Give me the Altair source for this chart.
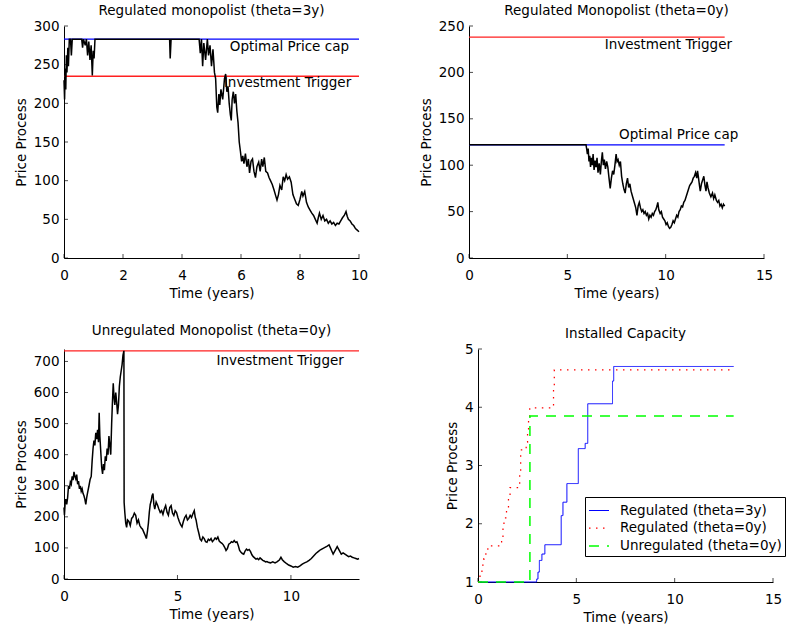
import altair as alt
import pandas as pd

FONT = "DejaVu Sans"
FS = 13.5

# ---------------- Panel 1: Regulated monopolist (theta=3y) ----------------
p1_t = [0.00, 0.02, 0.04, 0.06, 0.08, 0.10, 0.13, 0.15, 0.18, 0.22, 0.25, 0.28, 0.60, 0.63, 0.66,
        0.72, 0.76, 0.80, 0.84, 0.88, 0.92, 0.96, 0.99, 1.02, 1.05, 3.58, 3.60, 3.63, 4.58, 4.62,
        4.66, 4.70, 4.74, 4.80, 4.86, 4.90, 4.95, 5.00, 5.05, 5.10, 5.14, 5.18, 5.21, 5.25, 5.28,
        5.32, 5.38, 5.44, 5.48, 5.52, 5.56, 5.60, 5.64, 5.67, 5.70, 5.74, 5.78, 5.82, 5.86, 5.90,
        5.94, 5.98, 6.02, 6.06, 6.10, 6.15, 6.20, 6.25, 6.29, 6.34, 6.39, 6.44, 6.49, 6.54, 6.60,
        6.65, 6.70, 6.74, 6.79, 6.84, 6.90, 6.95, 7.00, 7.06, 7.12, 7.18, 7.22, 7.27, 7.32, 7.38,
        7.43, 7.48, 7.53, 7.58, 7.64, 7.70, 7.76, 7.82, 7.88, 7.94, 8.00, 8.06, 8.10, 8.16, 8.22,
        8.28, 8.34, 8.40, 8.46, 8.52, 8.58, 8.62, 8.66, 8.72, 8.78, 8.84, 8.90, 8.96, 9.02, 9.08,
        9.14, 9.20, 9.26, 9.32, 9.38, 9.44, 9.50, 9.56, 9.60, 9.64, 9.70, 9.76, 9.82, 9.88, 9.94,
        10.00]
p1_v = [230, 205, 245, 218, 262, 240, 272, 248, 283, 283, 262, 283, 283, 272, 283,
        275, 283, 262, 280, 256, 275, 236, 268, 258, 283, 283, 258, 283, 283, 265,
        283, 248, 278, 256, 283, 262, 275, 248, 270, 240, 232, 195, 188, 212, 198,
        218, 205, 232, 238, 215, 222, 200, 185, 178, 205, 215, 200, 212, 190, 175,
        150, 138, 125, 132, 122, 135, 118, 128, 110, 125, 128, 112, 104, 118, 124,
        112, 128, 118, 130, 112, 110, 104, 100, 95, 88, 80, 75, 82, 94, 88,
        105, 100, 108, 102, 105, 98, 82, 76, 70, 68, 76, 86, 80, 86, 72,
        66, 62, 58, 55, 50, 45, 52, 58, 50, 55, 48, 50, 45, 48, 44,
        46, 42, 45, 44, 48, 52, 55, 60, 54, 50, 48, 44, 42, 38, 36,
        34]
p1_cap, p1_trig = 283, 235

# ---------------- Panel 2: Regulated Monopolist (theta=0y) ----------------
p2_t = [0.00, 5.95, 5.98, 6.02, 6.06, 6.10, 6.14, 6.18, 6.22, 6.27, 6.31, 6.36, 6.41, 6.46, 6.51,
        6.56, 6.62, 6.68, 6.73, 6.78, 6.83, 6.88, 6.94, 7.00, 7.06, 7.12, 7.18, 7.24, 7.30, 7.36,
        7.42, 7.48, 7.53, 7.58, 7.64, 7.70, 7.76, 7.82, 7.88, 7.94, 8.00, 8.06, 8.12, 8.18, 8.24,
        8.32, 8.40, 8.48, 8.54, 8.60, 8.66, 8.72, 8.78, 8.84, 8.90, 8.96, 9.02, 9.08, 9.14, 9.20,
        9.26, 9.32, 9.38, 9.44, 9.50, 9.56, 9.60, 9.65, 9.72, 9.78, 9.84, 9.90, 9.96, 10.02, 10.08,
        10.14, 10.20, 10.26, 10.32, 10.38, 10.44, 10.50, 10.56, 10.62, 10.68, 10.74, 10.80, 10.86,
        10.92, 10.98, 11.04, 11.10, 11.16, 11.22, 11.28, 11.34, 11.40, 11.46, 11.52, 11.58, 11.62,
        11.66, 11.72, 11.76, 11.82, 11.88, 11.94, 12.00, 12.05, 12.10, 12.15, 12.22, 12.30, 12.38,
        12.44, 12.50, 12.58, 12.64, 12.70, 12.76, 12.82, 12.88, 12.94, 13.00]
p2_v = [122, 122, 118, 112, 118, 104, 110, 98, 108, 100, 112, 95, 105, 98, 108,
        92, 102, 90, 104, 114, 100, 106, 96, 104, 98, 86, 75, 86, 94, 90,
        100, 112, 104, 106, 100, 104, 88, 80, 74, 70, 80, 86, 76, 80, 72,
        66, 60, 54, 46, 56, 60, 54, 50, 52, 48, 50, 46, 48, 42, 46,
        44, 48, 46, 50, 52, 56, 60, 52, 48, 50, 44, 42, 40, 36, 38,
        34, 32, 33, 36, 40, 38, 42, 46, 44, 50, 52, 56, 55,
        60, 62, 66, 70, 74, 78, 80, 82, 86, 88, 92, 86, 94,
        88, 78, 72, 80, 84, 88, 78, 72, 82, 76, 70, 66, 70,
        64, 68, 62, 60, 62, 56, 58, 54, 58, 56]
p2_cap, p2_trig = 122, 238

# ---------------- Panel 3: Unregulated Monopolist (theta=0y) ----------------
p3_t = [0.00, 0.02, 0.05, 0.08, 0.12, 0.16, 0.20, 0.24, 0.28, 0.32, 0.36, 0.40, 0.44, 0.48, 0.52,
        0.56, 0.60, 0.64, 0.68, 0.72, 0.76, 0.80, 0.84, 0.88, 0.92, 0.96, 1.00, 1.04, 1.10, 1.15,
        1.20, 1.24, 1.28, 1.32, 1.36, 1.40, 1.44, 1.48, 1.52, 1.55, 1.58, 1.62, 1.66, 1.70, 1.74,
        1.78, 1.82, 1.86, 1.90, 1.94, 1.98, 2.02, 2.06, 2.10, 2.13, 2.17, 2.20, 2.24, 2.28, 2.32,
        2.36, 2.40, 2.44, 2.48, 2.52, 2.56, 2.60, 2.64, 2.65, 2.68, 2.72, 2.76, 2.80, 2.86, 2.92,
        2.98, 3.04, 3.10, 3.16, 3.22, 3.28, 3.34, 3.40, 3.46, 3.52, 3.58, 3.63, 3.68, 3.72, 3.76,
        3.80, 3.84, 3.88, 3.92, 3.96, 4.00, 4.06, 4.12, 4.18, 4.24, 4.30, 4.36, 4.42, 4.48, 4.54,
        4.60, 4.66, 4.72, 4.78, 4.84, 4.90, 4.96, 5.02, 5.08, 5.14, 5.20, 5.26, 5.32, 5.38, 5.44,
        5.50, 5.56, 5.62, 5.68, 5.74, 5.78, 5.82, 5.88, 5.94, 6.00, 6.06, 6.12, 6.18, 6.24, 6.30,
        6.36, 6.42, 6.48, 6.54, 6.60, 6.66, 6.72, 6.78, 6.84, 6.90, 6.96, 7.02, 7.08, 7.14, 7.20,
        7.26, 7.32, 7.38, 7.44, 7.50, 7.56, 7.62, 7.68, 7.74, 7.80, 7.86, 7.92, 7.98, 8.04, 8.10,
        8.16, 8.22, 8.28, 8.34, 8.40, 8.46, 8.52, 8.58, 8.64, 8.70, 8.76, 8.82, 8.88, 8.94, 9.00,
        9.10, 9.20, 9.30, 9.40, 9.50, 9.56, 9.62, 9.70, 9.80, 9.90, 10.00, 10.10, 10.20, 10.30,
        10.40, 10.50, 10.60, 10.70, 10.80, 10.90, 11.00, 11.10, 11.20, 11.30, 11.40, 11.50, 11.60,
        11.68, 11.74, 11.80, 11.86, 11.92, 11.98, 12.04, 12.10, 12.16, 12.22, 12.30, 12.38, 12.46,
        12.54, 12.62, 12.70, 12.78, 12.86, 12.94, 13.00]
p3_v = [230, 205, 245, 257, 240, 262, 300, 290, 312, 305, 330, 318, 345, 330, 322,
        336, 305, 315, 290, 300, 282, 290, 275, 268, 256, 240, 262, 278, 300, 320,
        330, 380, 420, 445, 430, 470, 450, 480, 440, 535, 460, 410, 360, 338, 370,
        350, 395, 380, 420, 400, 460, 430, 400, 500, 560, 630, 590, 560, 600, 570,
        530, 560, 620, 650, 670, 690, 720, 734, 246, 214, 180, 166, 190, 185, 172,
        195, 200, 212, 205, 180, 190, 172, 165, 160, 150, 140, 130, 155, 180, 215,
        240, 250, 268, 275, 240, 225, 248, 238, 225, 214, 220, 208, 225, 236, 215,
        205, 230, 236, 212, 204, 220, 214, 198, 185, 175, 168, 185, 198, 205, 190,
        195, 205, 198, 210, 220, 200, 190, 165, 148, 128, 123, 135, 130, 120, 118,
        128, 124, 130, 120, 125, 132, 128, 135, 122, 118, 115, 110, 102, 92, 98,
        112, 115, 120, 118, 124, 118, 120, 108, 92, 86, 82, 80, 90, 96, 92,
        95, 88, 78, 72, 68, 64, 66, 62, 68, 64, 60, 58, 55, 56, 54,
        52, 55, 52, 56, 62, 70, 62, 56, 50, 45, 42, 38, 40, 38,
        42, 48, 52, 55, 60, 66, 74, 82, 88, 94, 98, 102, 106,
        110, 100, 90, 80, 88, 96, 104, 96, 88, 80, 84, 80, 76,
        72, 74, 70, 68, 66, 64, 66]
p3_trig = 734

# ---------------- Panel 4: Installed Capacity ----------------
cap_names = ["Regulated (theta=3y)", "Regulated (theta=0y)", "Unregulated (theta=0y)"]
c1_t = [0, 2.98, 3.05, 3.12, 3.25, 3.40, 4.23, 4.32, 4.52, 5.10, 5.45, 5.58, 6.84, 6.90, 13]
c1_v = [1, 1.05, 1.17, 1.37, 1.48, 1.64, 2.14, 2.37, 2.69, 3.29, 3.38, 4.06, 4.45, 4.70, 4.70]
c2_t = [0, 0.10, 0.20, 0.30, 0.40, 0.50, 1.20, 1.27, 1.32, 1.45, 1.55, 1.63, 2.12, 2.17, 2.45,
        2.52, 2.57, 2.63, 3.84, 3.88, 13]
c2_v = [1.0, 1.1, 1.29, 1.4, 1.5, 1.62, 1.75, 1.95, 2.1, 2.27, 2.47, 2.62, 2.9, 3.27, 3.4,
        3.6, 3.83, 3.99, 4.33, 4.64, 4.64]
c3_t = [0, 2.64, 13]
c3_v = [1, 3.85, 3.85]

W, H = 295, 232


def xenc(field, domain, ticks):
    return alt.X(field, type="quantitative", title="Time (years)",
                 scale=alt.Scale(domain=domain, nice=False, zero=False),
                 axis=alt.Axis(values=ticks, labelFlush=False))


def yenc(field, domain, ticks):
    return alt.Y(field, type="quantitative", title="Price Process",
                 scale=alt.Scale(domain=domain, nice=False, zero=False),
                 axis=alt.Axis(values=ticks))


def tick_layers(xd, xt, yd, yt, h):
    xtk = alt.Chart(pd.DataFrame({"t": xt})).mark_tick(color="black", size=4, thickness=1).encode(
        x=xenc("t", xd, xt), y=alt.value(h - 2))
    ytk = alt.Chart(pd.DataFrame({"v": yt})).mark_tick(color="black", size=4, thickness=1).encode(
        y=yenc("v", yd, yt), x=alt.value(2))
    return [xtk, ytk]


def hline(val, x1, color, xd, xt, yd, yt):
    df = pd.DataFrame({"t": [0], "t2": [x1], "v": [val]})
    return alt.Chart(df).mark_rule(color=color, strokeWidth=1.3).encode(
        x=xenc("t", xd, xt), x2="t2", y=yenc("v", yd, yt))


def label(tx, ty, text, xd, xt, yd, yt):
    df = pd.DataFrame({"t": [tx], "v": [ty], "s": [text]})
    return alt.Chart(df).mark_text(align="left", baseline="middle", font=FONT, fontSize=FS,
                                   color="black").encode(
        x=xenc("t", xd, xt), y=yenc("v", yd, yt), text="s:N")


def path(t, v, xd, xt, yd, yt):
    df = pd.DataFrame({"t": t, "v": v})
    return alt.Chart(df).mark_line(color="black", strokeWidth=1.5).encode(
        x=xenc("t", xd, xt), y=yenc("v", yd, yt))


def ttl(text, off):
    return alt.Title(text, fontSize=FS, font=FONT, fontWeight="normal", offset=off, color="black")


# panel 1
xd1, xt1, yd1, yt1 = [0, 10], [0, 2, 4, 6, 8, 10], [0, 300], [0, 50, 100, 150, 200, 250, 300]
p1 = alt.layer(
    *tick_layers(xd1, xt1, yd1, yt1, H),
    hline(p1_trig, 10, "#ff2020", xd1, xt1, yd1, yt1),
    hline(p1_cap, 10, "#0000ff", xd1, xt1, yd1, yt1),
    label(5.62, 273, "Optimal Price cap", xd1, xt1, yd1, yt1),
    label(5.42, 226, "Investment Trigger", xd1, xt1, yd1, yt1),
    path(p1_t, p1_v, xd1, xt1, yd1, yt1),
).properties(width=W, height=H, title=ttl("Regulated monopolist (theta=3y)", 2))

# panel 2
xd2, xt2, yd2, yt2 = [0, 15], [0, 5, 10, 15], [0, 250], [0, 50, 100, 150, 200, 250]
p2 = alt.layer(
    *tick_layers(xd2, xt2, yd2, yt2, H),
    hline(p2_trig, 13, "#ff2020", xd2, xt2, yd2, yt2),
    hline(p2_cap, 13, "#0000ff", xd2, xt2, yd2, yt2),
    label(6.9, 229, "Investment Trigger", xd2, xt2, yd2, yt2),
    label(7.63, 133, "Optimal Price cap", xd2, xt2, yd2, yt2),
    path(p2_t, p2_v, xd2, xt2, yd2, yt2),
).properties(width=W, height=H, title=ttl("Regulated Monopolist (theta=0y)", 2))

# panel 3
xd3, xt3, yd3, yt3 = [0, 13], [0, 5, 10], [0, 740], [0, 100, 200, 300, 400, 500, 600, 700]
p3 = alt.layer(
    *tick_layers(xd3, xt3, yd3, yt3, 230),
    hline(p3_trig, 13, "#ff2020", xd3, xt3, yd3, yt3),
    label(6.72, 702, "Investment Trigger", xd3, xt3, yd3, yt3),
    path(p3_t, p3_v, xd3, xt3, yd3, yt3),
).properties(width=W, height=230, title=ttl("Unregulated Monopolist (theta=0y)", 10))

# panel 4
xd4, xt4, yd4, yt4 = [0, 15], [0, 5, 10, 15], [1, 5], [1, 2, 3, 4, 5]
cap_df = pd.concat([
    pd.DataFrame({"t": c1_t, "v": c1_v, "series": cap_names[0]}),
    pd.DataFrame({"t": c2_t, "v": c2_v, "series": cap_names[1]}),
    pd.DataFrame({"t": c3_t, "v": c3_v, "series": cap_names[2]}),
])
leg = alt.Legend(orient="none", legendX=521, legendY=471, title=None, strokeColor="black",
                 fillColor="white", padding=3, labelFont=FONT, labelFontSize=13.5, labelColor="black",
                 symbolType="stroke", symbolSize=400, rowPadding=-2, labelOffset=10, labelLimit=0,
                 cornerRadius=0)
caps = alt.Chart(cap_df).mark_line(interpolate="step-after").encode(
    x=xenc("t", xd4, xt4), y=yenc("v", yd4, yt4),
    color=alt.Color("series:N", scale=alt.Scale(domain=cap_names, range=["#0000ff", "#ff0000", "#00ff00"]),
                    legend=leg),
    strokeDash=alt.StrokeDash("series:N", scale=alt.Scale(domain=cap_names, range=[[1, 0], [1.5, 5.5], [10, 8]]),
                              legend=leg),
    strokeWidth=alt.StrokeWidth("series:N", scale=alt.Scale(domain=cap_names, range=[1, 1.5, 4]),
                                legend=leg),
)
p4 = alt.layer(*tick_layers(xd4, xt4, yd4, yt4, 233), caps).properties(
    width=W, height=233, title=ttl("Installed Capacity", 2))

row1 = alt.hconcat(p1, p2, spacing=110, bounds="flush")
row2 = alt.hconcat(p3, p4, spacing=119, bounds="flush")
chart = alt.vconcat(row1, row2, spacing=24).properties(
    padding={"left": 14, "top": 3, "right": 0, "bottom": 0}
).configure_view(stroke=None).configure_axis(
    domainColor="black", domainWidth=1, ticks=False, grid=False,
    labelFont=FONT, labelFontSize=FS, labelColor="black", labelPadding=5,
    titleFont=FONT, titleFontSize=FS, titleFontWeight="normal", titleColor="black", titlePadding=5,
).configure_axisX(labelPadding=10, titlePadding=5).configure_title(anchor="middle")

chart.save("out.html", embed_options={"renderer": "svg", "actions": False})
